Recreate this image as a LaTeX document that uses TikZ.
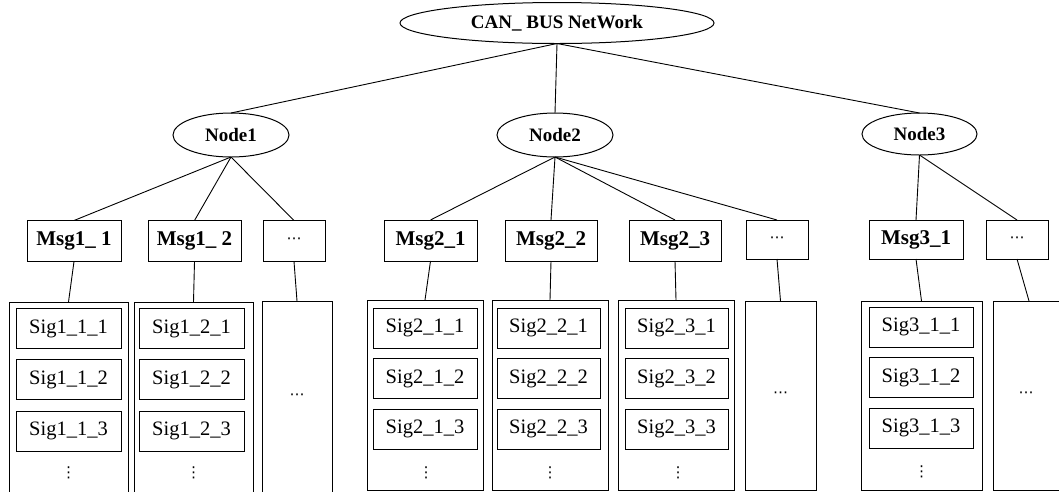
\documentclass[tikz,border=0pt]{standalone}
\usepackage{fontspec}
\setmainfont{Liberation Serif}
\newfontfamily\symfont{DejaVu Sans}
\usetikzlibrary{shapes.geometric}

\tikzset{
  every node/.style={inner sep=0pt, outer sep=0pt},
  lbl/.style={font=\fontsize{20.5}{23}\selectfont},
  blbl/.style={font=\fontsize{19}{22}\selectfont\bfseries},
  mlbl/.style={font=\fontsize{21}{24}\selectfont\bfseries},
  rootell/.style={ellipse, draw, line width=1pt, blbl, minimum width=314pt, minimum height=41pt},
  ecuell/.style={ellipse, draw, line width=1pt, blbl, minimum width=116pt, minimum height=44pt},
  msgbox/.style={rectangle, draw, line width=1pt, mlbl, minimum height=41pt},
  sigbox/.style={rectangle, draw, line width=1pt, lbl, minimum height=40pt},
  grpbox/.style={rectangle, draw, line width=1pt},
  link/.style={line width=0.9pt},
  hdots/.style={font=\fontsize{15}{18}\symfont\mdseries},
  vdotsnode/.style={font=\fontsize{15}{18}\symfont\mdseries},
}
\newcommand{\smalldots}{{\fontsize{15}{18}\symfont\mdseries ⋯}}

\begin{document}
\begin{tikzpicture}[x=1pt, y=-1pt]
\useasboundingbox (0,0) rectangle (1059,491);

% ---- network and ECU nodes
\node[rootell] (can) at (557,23) {CAN\_ BUS NetWork};
\node[ecuell] (n1) at (231,135) {Node1};
\node[ecuell] (n2) at (555,135) {Node2};
\node[ecuell, minimum width=115pt, minimum height=42pt] (n3) at (919.5,134) {Node3};

% ---- messages
\node[msgbox, minimum width=94pt] (m11) at (74,241) {Msg1\_ 1};
\node[msgbox, minimum width=93pt] (m12) at (194.5,241) {Msg1\_ 2};
\node[msgbox, minimum width=62pt] (m1x) at (294,241) {\smalldots};
\node[msgbox, minimum width=93pt] (m21) at (430.5,240.5) {Msg2\_1};
\node[msgbox, minimum width=92pt] (m22) at (551,240.5) {Msg2\_2};
\node[msgbox, minimum width=92pt] (m23) at (675,240.5) {Msg2\_3};
\node[msgbox, minimum width=62pt, minimum height=39pt] (m2x) at (777,239.5) {\smalldots};
\node[msgbox, minimum width=94pt, minimum height=39pt] (m31) at (916,239.5) {Msg3\_1};
\node[msgbox, minimum width=62pt, minimum height=39pt] (m3x) at (1017,239.5) {\smalldots};

% ---- signal groups (Node1 groups run past the lower edge)
\node[grpbox, minimum width=119pt, minimum height=196pt] (g11) at (68.5,400) {};
\node[grpbox, minimum width=119pt, minimum height=196pt] (g12) at (193.5,400) {};
\node[grpbox, minimum width=70pt, minimum height=198pt] (g1x) at (297,400) {};
\node[grpbox, minimum width=116pt, minimum height=190pt] (g21) at (425,395) {};
\node[grpbox, minimum width=116pt, minimum height=190pt] (g22) at (550,395) {};
\node[grpbox, minimum width=116pt, minimum height=190pt] (g23) at (676,395) {};
\node[grpbox, minimum width=71pt, minimum height=189pt] (g2x) at (780.5,395.5) {};
\node[grpbox, minimum width=121pt, minimum height=189pt] (g31) at (921.5,395.5) {};
\node[grpbox, minimum width=72pt, minimum height=189pt] (g3x) at (1029,395.5) {};

% ---- signals
\node[sigbox, minimum width=105pt] (s111) at (68.5,328.5) {Sig1\_1\_1};
\node[sigbox, minimum width=105pt] (s112) at (68.5,379.5) {Sig1\_1\_2};
\node[sigbox, minimum width=105pt] (s113) at (68.5,431) {Sig1\_1\_3};
\node[vdotsnode] (v11) at (68.5,473) {⋮};

\node[sigbox, minimum width=105pt] (s121) at (191.5,328.5) {Sig1\_2\_1};
\node[sigbox, minimum width=105pt] (s122) at (191.5,379.5) {Sig1\_2\_2};
\node[sigbox, minimum width=105pt] (s123) at (191.5,431) {Sig1\_2\_3};
\node[vdotsnode] (v12) at (193.5,473) {⋮};

\node[hdots] (d1x) at (297,397) {⋯};

\node[sigbox, minimum width=104pt] (s211) at (425,328) {Sig2\_1\_1};
\node[sigbox, minimum width=104pt] (s212) at (425,378.5) {Sig2\_1\_2};
\node[sigbox, minimum width=104pt] (s213) at (425,429) {Sig2\_1\_3};
\node[vdotsnode] (v21) at (426,473) {⋮};

\node[sigbox, minimum width=103pt] (s221) at (548.5,328) {Sig2\_2\_1};
\node[sigbox, minimum width=103pt] (s222) at (548.5,378.5) {Sig2\_2\_2};
\node[sigbox, minimum width=103pt] (s223) at (548.5,429) {Sig2\_2\_3};
\node[vdotsnode] (v22) at (550,473) {⋮};

\node[sigbox, minimum width=103pt] (s231) at (676.5,328) {Sig2\_3\_1};
\node[sigbox, minimum width=103pt] (s232) at (676.5,378.5) {Sig2\_3\_2};
\node[sigbox, minimum width=103pt] (s233) at (676.5,429) {Sig2\_3\_3};
\node[vdotsnode] (v23) at (678,473) {⋮};

\node[hdots] (d2x) at (780.5,395) {⋯};

\node[sigbox, minimum width=104pt] (s311) at (921,327) {Sig3\_1\_1};
\node[sigbox, minimum width=104pt] (s312) at (921,377.5) {Sig3\_1\_2};
\node[sigbox, minimum width=104pt] (s313) at (921,428) {Sig3\_1\_3};
\node[vdotsnode] (v31) at (921.5,472) {⋮};

\node[hdots] (d3x) at (1026,395) {⋯};

% ---- tree links
\draw[link] (can.south) -- (n1.north);
\draw[link] (can.south) -- (n2.north);
\draw[link] (can.south) -- (n3.north);

\foreach \m in {m11,m12,m1x} \draw[link] (n1.south) -- (\m.north);
\foreach \m in {m21,m22,m23,m2x} \draw[link] (n2.south) -- (\m.north);
\foreach \m in {m31,m3x} \draw[link] (n3.south) -- (\m.north);

\draw[link] (m11.south) -- (g11.north);
\draw[link] (m12.south) -- (g12.north);
\draw[link] (m1x.south) -- (g1x.north);
\draw[link] (m21.south) -- (g21.north);
\draw[link] (m22.south) -- (g22.north);
\draw[link] (m23.south) -- (g23.north);
\draw[link] (m2x.south) -- (g2x.north);
\draw[link] (m31.south) -- (g31.north);
\draw[link] (m3x.south) -- (g3x.north);
\end{tikzpicture}
\end{document}
